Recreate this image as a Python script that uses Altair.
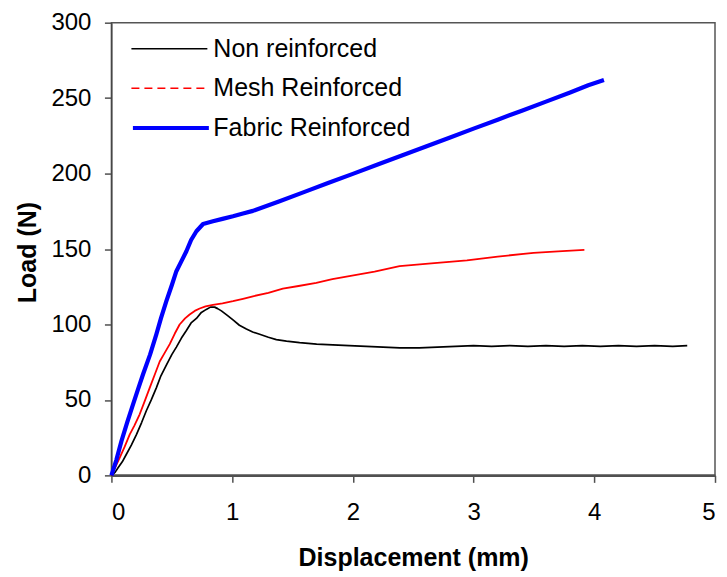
import altair as alt
import pandas as pd

SERIES = ["Non reinforced", "Mesh Reinforced", "Fabric Reinforced"]
COLORS = ["#000000", "#ff0000", "#0000ff"]

non_x = [0, 0.03, 0.055, 0.09, 0.124, 0.165, 0.207, 0.25, 0.29, 0.33, 0.372, 0.41, 0.455, 0.50,
         0.538, 0.58, 0.621, 0.66, 0.704, 0.745, 0.786, 0.82, 0.855, 0.88, 0.911, 0.96, 1.007,
         1.06, 1.118, 1.17, 1.228, 1.30, 1.366, 1.45, 1.559, 1.70, 1.834, 1.97, 2.11, 2.25, 2.39,
         2.55, 2.7, 2.85, 3.0, 3.15, 3.3, 3.45, 3.6, 3.75, 3.9, 4.05, 4.2, 4.35, 4.5, 4.65, 4.77]
non_y = [0, 2, 5, 9, 14, 20, 27, 35, 43, 50, 58, 66, 73, 80,
         85, 91, 96, 101, 104, 108, 110, 111.5, 111.5, 110.5, 109, 106, 103,
         99.5, 97, 95, 93.5, 91.5, 90, 89, 88, 87, 86.5, 86, 85.5, 85, 84.5,
         84.5, 85, 85.5, 86, 85.5, 86, 85.5, 86, 85.5, 86, 85.5, 86, 85.5, 86, 85.5, 86]

mesh_x = [0, 0.035, 0.069, 0.11, 0.151, 0.19, 0.234, 0.275, 0.317, 0.36, 0.4, 0.44, 0.483, 0.525,
          0.565, 0.61, 0.648, 0.69, 0.731, 0.78, 0.841, 0.92, 1.007, 1.09, 1.172, 1.3, 1.42, 1.55,
          1.697, 1.83, 1.97, 2.18, 2.387, 2.65, 2.945, 3.2, 3.497, 3.7, 3.918]
mesh_y = [0, 6, 11.7, 19, 27, 33, 40.5, 49, 58, 67, 75.5, 81, 87, 94,
          100, 104, 106.6, 109, 110.6, 112, 113, 114, 115.4, 117, 118.7, 121, 123.8, 125.5,
          127.6, 130, 132, 135, 138.7, 140.5, 142.5, 145, 147.5, 148.5, 149.5]

fab_x = [0, 0.04, 0.083, 0.13, 0.179, 0.22, 0.262, 0.32, 0.372, 0.41, 0.455, 0.5, 0.538, 0.58,
         0.621, 0.66, 0.704, 0.759, 0.841, 0.92, 1.007, 1.09, 1.172, 1.393, 1.6, 1.8, 2.0, 2.2,
         2.4, 2.6, 2.8, 3.0, 3.2, 3.4, 3.6, 3.8, 3.95, 4.08]
fab_y = [0, 10, 22.7, 35, 47, 57, 67, 80, 93.4, 104, 115.4, 126, 135.3, 142,
         148.5, 156, 161.8, 166.6, 168.4, 170, 171.7, 173.5, 175.3, 181.7, 187.9, 193.9, 199.8, 205.8,
         211.8, 217.8, 223.8, 229.8, 235.7, 241.7, 247.7, 253.7, 258.5, 262]


def frame(name, xs, ys):
    return pd.DataFrame({"series": name, "disp": xs, "load": ys, "order": list(range(len(xs)))})


FONT = "Liberation Sans"
ROW = 39.7

x = alt.X("disp:Q", scale=alt.Scale(domain=[0, 5], nice=False),
          axis=alt.Axis(title="Displacement (mm)", values=[0, 1, 2, 3, 4, 5], format="d",
                        labelBaseline="alphabetic", labelPadding=37, tickSize=7,
                        titleBaseline="alphabetic", titleY=90,
                        domainWidth=2.5, domainColor="#505050"))
y = alt.Y("load:Q", scale=alt.Scale(domain=[0, 300], nice=False),
          axis=alt.Axis(title="Load (N)", values=[0, 50, 100, 150, 200, 250, 300],
                        labelPadding=13.5, tickSize=7,
                        titleBaseline="alphabetic", titleX=-75.5, titleY=229.5,
                        domainWidth=1.2, domainColor="#404040"))


def series_layer(idx, xs, ys, plot_width, legend_width, dash, label_offset):
    leg_kwargs = dict(
        title=None, orient="none", legendX=19, legendY=14 + idx * ROW, padding=0,
        symbolType="stroke", symbolSize=5776, clipHeight=24,
        symbolStrokeWidth=legend_width,
        labelFont=FONT, labelFontSize=25, labelColor="#000000", labelOffset=label_offset,
        labelLimit=400,
    )
    if dash:
        leg_kwargs["symbolDash"] = dash
    legend = alt.Legend(**leg_kwargs)
    color = alt.Color("series:N", scale=alt.Scale(domain=[SERIES[idx]], range=[COLORS[idx]]), legend=legend)
    return alt.Chart(frame(SERIES[idx], xs, ys)).mark_line(
        strokeWidth=plot_width, strokeJoin="round"
    ).encode(x=x, y=y, color=color, order="order:Q")


chart = alt.layer(
    series_layer(0, non_x, non_y, 1.7, 1.5, None, 5),
    series_layer(1, mesh_x, mesh_y, 1.8, 1.5, [8, 5], 5),
    series_layer(2, fab_x, fab_y, 4.2, 4.2, None, 2),
).resolve_scale(
    color="independent"
).properties(
    width=604, height=453,
    autosize=alt.AutoSizeParams(type="none"),
    padding={"left": 103.5, "top": 14.5, "right": 4, "bottom": 100},
    background="#ffffff",
).configure_view(
    stroke="#555555", strokeWidth=1.5,
).configure_axis(
    grid=False, labelFont=FONT, labelFontSize=24, labelColor="#000000",
    titleFont=FONT, titleFontSize=25, titleFontWeight="bold", titleColor="#000000",
    tickColor="#505050", tickWidth=1.5,
)

chart.save("out.html", embed_options={"renderer": "svg", "actions": False})
